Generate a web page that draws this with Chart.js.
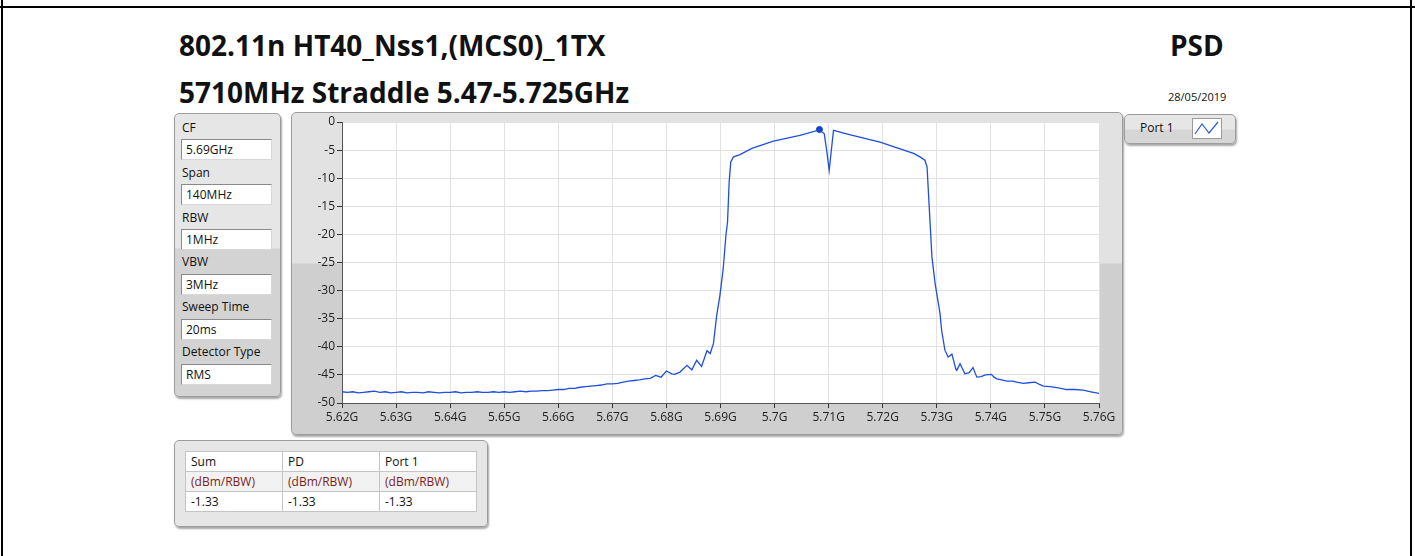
<!DOCTYPE html>
<html>
<head>
<meta charset="utf-8">
<title>PSD</title>
<script src="https://cdn.jsdelivr.net/npm/chart.js@4.4.1/dist/chart.umd.min.js"></script>
<style>
body { margin: 0; width: 1415px; height: 556px; background: #fff; position: relative; overflow: hidden; font-family: "Open Sans", sans-serif; color: #111; }
.abs { position: absolute; }
.line-h { left: 0; top: 6px; width: 1415px; height: 2px; background: #000; }
.line-v { top: 0; width: 2px; height: 556px; background: #000; }
.title { left: 179px; font-weight: 700; font-size: 28px; line-height: 34px; white-space: nowrap; }
.panel { box-sizing: border-box; border: 1px solid #9c9c9c; border-radius: 5px; box-shadow: 1px 2px 2px #a8a8a8; }
.settings { background: linear-gradient(#e6e6e6 0, #e6e6e6 134px, #d3d3d3 135px); }
.lbl { left: 182px; font-size: 12px; line-height: 16px; white-space: nowrap; }
.box { left: 181px; width: 91px; height: 21px; box-sizing: border-box; background: #fff; border: 1px solid #8a8a8a; border-right-color: #d8d8d8; border-bottom-color: #d8d8d8; font-size: 12px; line-height: 19px; padding-left: 4px; }
.frame { background: linear-gradient(#e2e2e2 0, #e2e2e2 150px, #cfcfcf 151px); }
.legend { background: linear-gradient(#e6e6e6 0, #e6e6e6 14px, #d6d6d6 15px); }
table { border-collapse: collapse; font-size: 12px; }
td { border: 1px solid #c4c4c4; height: 19px; padding: 0 0 0 5px; width: 91px; line-height: 19px; }
tr.units td { color: #7a1d1d; background: #f2f2f2; }
</style>
</head>
<body>
<div class="abs line-h"></div>
<div class="abs line-v" style="left:1px"></div>
<div class="abs line-v" style="left:1410px"></div>

<div class="abs title" style="top:28px">802.11n HT40_Nss1,(MCS0)_1TX</div>
<div class="abs title" style="top:75px">5710MHz Straddle 5.47-5.725GHz</div>
<div class="abs title" style="left:1170px;top:28px">PSD</div>
<div class="abs" style="left:1168px;top:89px;font-size:11px;line-height:16px">28/05/2019</div>

<!-- analyzer settings -->
<div class="abs panel settings" style="left:174px;top:113px;width:107px;height:284px"></div>
<div class="abs lbl" style="top:120px">CF</div>
<div class="abs box" style="top:139px">5.69GHz</div>
<div class="abs lbl" style="top:165px">Span</div>
<div class="abs box" style="top:184px">140MHz</div>
<div class="abs lbl" style="top:210px">RBW</div>
<div class="abs box" style="top:229px">1MHz</div>
<div class="abs lbl" style="top:254px">VBW</div>
<div class="abs box" style="top:274px">3MHz</div>
<div class="abs lbl" style="top:299px">Sweep Time</div>
<div class="abs box" style="top:319px">20ms</div>
<div class="abs lbl" style="top:344px">Detector Type</div>
<div class="abs box" style="top:364px">RMS</div>

<!-- graph -->
<div class="abs panel frame" style="left:291px;top:112px;width:832px;height:323px"></div>
<canvas id="psdChart" class="abs" style="left:291px;top:112px" width="831" height="322"></canvas>

<!-- legend -->
<div class="abs panel legend" style="left:1124px;top:114px;width:112px;height:30px"></div>
<div class="abs" style="left:1140px;top:120px;font-size:12px;line-height:16px">Port 1</div>
<svg class="abs" style="left:1192px;top:118px" width="30" height="21">
  <rect x="0.5" y="0.5" width="29" height="20" fill="#fff" stroke="#9a9a9a"/>
  <polyline points="3,16 10,6 17,15 26,4" fill="none" stroke="#2a5ae0" stroke-width="1.2"/>
</svg>

<!-- marker table -->
<div class="abs panel settings" style="left:174px;top:440px;width:314px;height:87px"></div>
<table class="abs" style="left:185px;top:451px;background:#fff">
  <tr><td>Sum</td><td>PD</td><td>Port 1</td></tr>
  <tr class="units"><td>(dBm/RBW)</td><td>(dBm/RBW)</td><td>(dBm/RBW)</td></tr>
  <tr><td>-1.33</td><td>-1.33</td><td>-1.33</td></tr>
</table>

<script>
// Data
// -----------------------------------
var freqGHz = [
    5.620, 5.621, 5.622, 5.623, 5.624, 5.625, 5.626, 5.627, 5.628, 5.629,
    5.630, 5.631, 5.632, 5.633, 5.634, 5.635, 5.636, 5.637, 5.638, 5.639,
    5.640, 5.641, 5.642, 5.643, 5.644, 5.645, 5.646, 5.647, 5.648, 5.649,
    5.650, 5.651, 5.652, 5.653, 5.654, 5.655, 5.656, 5.657, 5.658, 5.659,
    5.660, 5.661, 5.662, 5.663, 5.664, 5.665, 5.666, 5.667, 5.668, 5.669,
    5.670, 5.671, 5.672, 5.673, 5.674, 5.675, 5.676, 5.677, 5.678, 5.679,
    5.680, 5.681, 5.6815, 5.6825, 5.6838, 5.6847, 5.6856, 5.6865, 5.6875, 5.6881,
    5.6887, 5.6893, 5.6899, 5.6905, 5.6910, 5.6913, 5.6916, 5.6919, 5.6924, 5.6936,
    5.6958, 5.6998, 5.7047, 5.7083, 5.7092, 5.7097, 5.7101, 5.7105, 5.7109, 5.7133,
    5.7195, 5.7257, 5.7269, 5.7278, 5.7282, 5.7286, 5.7291, 5.7297, 5.7303, 5.7306,
    5.7309, 5.7315, 5.7318, 5.7321, 5.7328, 5.7335, 5.7337, 5.7343, 5.7352, 5.7360,
    5.7367, 5.7374, 5.7382, 5.7390, 5.7401, 5.7406, 5.7411, 5.7420, 5.7430, 5.7440,
    5.7448, 5.7460, 5.7470, 5.7482, 5.7490, 5.7497, 5.7510, 5.7525, 5.7540, 5.7555,
    5.7571, 5.7585, 5.7600
];
var psdDbm = [
    -48.0, -48.1, -48.0, -48.2, -48.1, -48.0, -47.9, -48.1, -48.0, -48.2,
    -48.1, -48.0, -48.2, -48.1, -48.1, -48.2, -48.0, -48.1, -48.2, -48.1,
    -48.1, -48.0, -48.2, -48.1, -48.1, -48.0, -48.1, -48.1, -48.0, -48.1,
    -48.0, -48.1, -48.0, -47.9, -48.0, -47.9, -47.9, -47.8, -47.8, -47.7,
    -47.6, -47.6, -47.4, -47.4, -47.2, -47.1, -47.0, -46.9, -46.8, -46.6,
    -46.6, -46.5, -46.3, -46.1, -46.0, -45.9, -45.7, -45.6, -45.1, -45.4,
    -44.3, -44.8, -44.9, -44.5, -43.3, -44.1, -42.4, -43.5, -40.7, -41.2,
    -39.4, -34.4, -30.8, -26.1, -20.2, -17.8, -10.7, -7.1, -6.2, -5.8,
    -4.7, -3.4, -2.4, -1.4, -2.1, -5.5, -8.6, -5.0, -1.5, -2.1,
    -3.6, -5.6, -6.2, -6.8, -8.0, -15.1, -24.0, -28.8, -32.3, -34.1,
    -37.1, -40.6, -41.2, -41.8, -41.3, -43.9, -44.2, -43.0, -44.8, -44.6,
    -43.7, -45.4, -45.3, -45.0, -44.9, -45.4, -45.7, -45.9, -46.1, -46.1,
    -46.3, -46.5, -46.4, -46.3, -46.7, -47.0, -47.1, -47.3, -47.6, -47.6,
    -47.7, -48.0, -48.3
];
var markerFreq = [5.7083];
var markerLevel = [-1.33];

var xMin = 5.62, xMax = 5.76, xStep = 0.01;
var yMin = -50, yMax = 0, yStep = 5;

function toPoints(xs, ys) {
    var pts = [];
    for (var i = 0; i < xs.length; i++) {
        pts.push({ x: xs[i], y: ys[i] });
    }
    return pts;
}

// white plot area on the grey frame
// -----------------------------------
var plotBackground = {
    id: 'plotBackground',
    beforeDraw: function (chart) {
        var a = chart.chartArea;
        var ctx = chart.ctx;
        ctx.save();
        ctx.fillStyle = '#ffffff';
        ctx.fillRect(a.left, a.top, a.right - a.left, a.bottom - a.top);
        ctx.restore();
    }
};

var tickFont = { family: '"Open Sans", sans-serif', size: 12 };

new Chart(document.getElementById('psdChart'), {
    type: 'line',
    data: {
        datasets: [{
            data: toPoints(freqGHz, psdDbm),
            borderColor: '#1f4fdc',
            borderWidth: 1.3,
            pointRadius: 0,
            tension: 0
        }, {
            data: toPoints(markerFreq, markerLevel),
            showLine: false,
            pointRadius: 3,
            pointBackgroundColor: '#1240c8',
            pointBorderColor: '#1240c8'
        }]
    },
    options: {
        responsive: false,
        animation: false,
        layout: { padding: { left: 0, top: 10, right: 23, bottom: 0 } },
        plugins: {
            legend: { display: false },
            tooltip: { enabled: false }
        },
        scales: {
            x: {
                type: 'linear',
                min: xMin,
                max: xMax,
                afterFit: function (scale) { scale.height = 31; },
                grid: { color: '#e2e2e2', tickColor: '#333', tickLength: 5 },
                border: { display: true, color: '#555' },
                ticks: {
                    stepSize: xStep,
                    color: '#222',
                    font: tickFont,
                    padding: 2,
                    maxRotation: 0,
                    autoSkip: false,
                    callback: function (v) { return Number(v.toFixed(2)) + 'G'; }
                }
            },
            y: {
                min: yMin,
                max: yMax,
                afterFit: function (scale) { scale.width = 51; },
                grid: { color: '#e2e2e2', tickColor: '#333', tickLength: 5 },
                border: { display: true, color: '#555' },
                ticks: {
                    stepSize: yStep,
                    color: '#222',
                    font: tickFont,
                    padding: 2
                }
            }
        }
    },
    plugins: [plotBackground]
});
</script>
</body>
</html>
